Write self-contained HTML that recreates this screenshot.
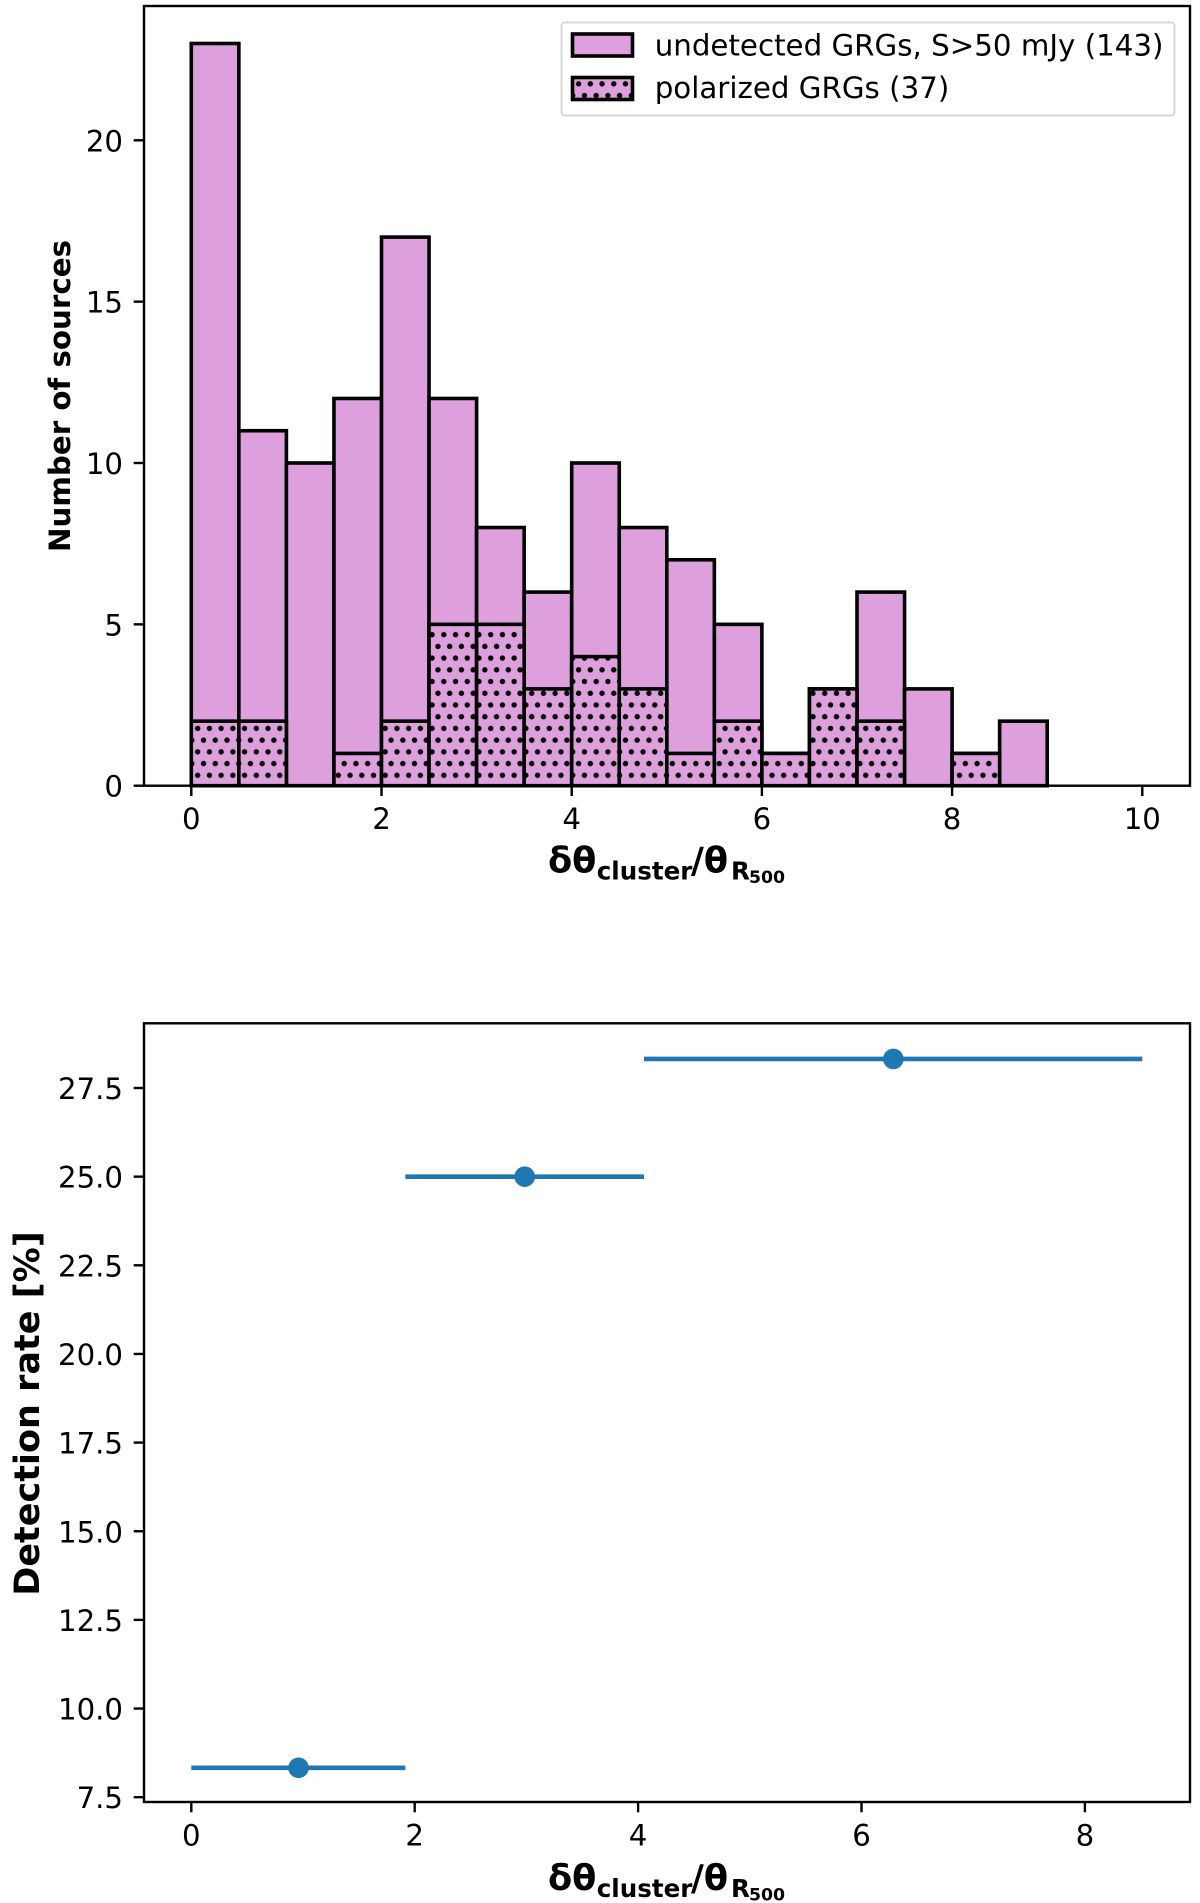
<!DOCTYPE html>
<html lang="en">
<head>
<meta charset="utf-8">
<title>GRG histogram and detection rate</title>
<style>
  html, body { margin: 0; padding: 0; background: #fff; }
  svg { display: block; }
  text { font-family: "DejaVu Sans", "Liberation Sans", sans-serif; fill: #000; }
  .tick-label { font-size: 29.2px; }
  .legend-label { font-size: 29.3px; }
  .bold { font-weight: bold; }
</style>
</head>
<body>
<svg id="figure" xmlns="http://www.w3.org/2000/svg" width="1200" height="1903" viewBox="0 0 1200 1903">
  <defs>
    <pattern id="dots" patternUnits="userSpaceOnUse" width="11.72" height="23.44" patternTransform="translate(197.7 775.3)">
      <rect x="0" y="0" width="11.72" height="23.44" fill="#dda0dd"></rect>
      <circle cx="0" cy="0" r="2.7" fill="#000"></circle>
      <circle cx="11.72" cy="0" r="2.7" fill="#000"></circle>
      <circle cx="0" cy="23.44" r="2.7" fill="#000"></circle>
      <circle cx="11.72" cy="23.44" r="2.7" fill="#000"></circle>
      <circle cx="5.86" cy="11.72" r="2.7" fill="#000"></circle>
    </pattern>
  </defs>
  <rect x="0" y="0" width="1200" height="1903" fill="#fff"></rect>

  <g id="hist-bars"></g>
  <g id="hist-axes"></g>
  <rect x="144" y="6" width="1046" height="779.7" fill="none" stroke="#000" stroke-width="2.4"></rect>

  <text class="bold" font-size="29.3" text-anchor="middle" transform="translate(70 396) rotate(-90)">Number of sources</text>
  <text class="bold"><tspan x="548" y="872.7" font-size="35.2">δθ</tspan><tspan x="596.7" y="879.5" font-size="24.6">cluster</tspan><tspan x="691" y="872.7" font-size="35.2">/θ</tspan><tspan x="731" y="879.5" font-size="24.6">R</tspan><tspan x="749" y="883" font-size="17.3">500</tspan></text>

  <g>
    <rect x="561.5" y="22.5" width="613" height="93" rx="3" ry="3" fill="#fff" fill-opacity="0.8" stroke="#d9d9d9" stroke-width="2"></rect>
    <rect x="572.5" y="34" width="60" height="22" fill="#dda0dd" stroke="#000" stroke-width="3.6"></rect>
    <text class="legend-label" x="654.7" y="55.5">undetected GRGs, S&gt;50 mJy (143)</text>
    <rect x="572.5" y="77.5" width="60" height="22" fill="url(#dots)" stroke="#000" stroke-width="3.6"></rect>
    <text class="legend-label" x="654.7" y="98.2">polarized GRGs (37)</text>
  </g>

  <g id="rate-marks"></g>
  <g id="rate-axes"></g>
  <rect x="144" y="1023.3" width="1046" height="778.7" fill="none" stroke="#000" stroke-width="2.4"></rect>

  <text class="bold" font-size="35" text-anchor="middle" transform="translate(39 1413.5) rotate(-90)">Detection rate [%]</text>
  <text class="bold"><tspan x="548" y="1890" font-size="35.2">δθ</tspan><tspan x="596.7" y="1896.8" font-size="24.6">cluster</tspan><tspan x="691" y="1890" font-size="35.2">/θ</tspan><tspan x="731" y="1896.8" font-size="24.6">R</tspan><tspan x="749" y="1900.3" font-size="17.3">500</tspan></text>
</svg>

<script>
const binWidth = 0.5;
const undetectedCounts = [23, 11, 10, 12, 17, 12, 8, 6, 10, 8, 7, 5, 1, 3, 6, 3, 1, 2];
const polarizedCounts = [2, 2, 0, 1, 2, 5, 5, 3, 4, 3, 1, 2, 1, 3, 2, 0, 1, 0];
const histXTicks = [0, 2, 4, 6, 8, 10];
const histYTicks = [0, 5, 10, 15, 20];

const rateCenters = [0.96, 2.985, 6.285];
const rateLow = [0.0, 1.916, 4.053];
const rateHigh = [1.916, 4.053, 8.514];
const rateValues = [8.33, 25.0, 28.32];
const rateXTicks = [0, 2, 4, 6, 8];
const rateYTicks = [7.5, 10.0, 12.5, 15.0, 17.5, 20.0, 22.5, 25.0, 27.5];

const NS = 'http://www.w3.org/2000/svg';
function make(tag, parent, attrs) {
  const el = document.createElementNS(NS, tag);
  for (const k in attrs) el.setAttribute(k, attrs[k]);
  parent.appendChild(el);
  return el;
}

const histX = v => 191.3 + 95.1 * v;
const histY = v => 785.7 - 32.27 * v;
const rateX = v => 191.3 + 111.7 * v;
const rateY = v => 1797.2 - 35.46 * (v - 7.5);

const histBars = document.getElementById('hist-bars');
const histAxes = document.getElementById('hist-axes');
const rateMarks = document.getElementById('rate-marks');
const rateAxes = document.getElementById('rate-axes');

undetectedCounts.forEach(function (c, i) {
  const x0 = histX(i * binWidth), x1 = histX((i + 1) * binWidth);
  const el = make('rect', histBars, { x: x0, y: histY(c), width: x1 - x0, height: histY(0) - histY(c), fill: '#dda0dd', stroke: '#000', 'stroke-width': 3.6 });
  
  
});

polarizedCounts.forEach(function (c, i) {
  const x0 = histX(i * binWidth), x1 = histX((i + 1) * binWidth);
  const el = make('rect', histBars, { x: x0, y: histY(c), width: x1 - x0, height: histY(0) - histY(c), fill: 'url(#dots)', stroke: '#000', 'stroke-width': 3.6 });
  
  
});

histXTicks.forEach(function (t) {
  const mark = make('line', histAxes, { x1: histX(t), x2: histX(t), y1: 785.7, y2: 796, stroke: '#000', 'stroke-width': 2.4 });
  
  
  const label = make('text', histAxes, { x: histX(t), y: 829, 'text-anchor': 'middle', class: 'tick-label' });
  label.textContent = String(t);
  
  
});

histYTicks.forEach(function (t) {
  const mark = make('line', histAxes, { x1: 133.7, x2: 144, y1: histY(t), y2: histY(t), stroke: '#000', 'stroke-width': 2.4 });
  
  
  const label = make('text', histAxes, { x: 123, y: histY(t) + 11, 'text-anchor': 'end', class: 'tick-label' });
  label.textContent = String(t);
  
  
});

rateValues.forEach(function (v, i) {
  const bar = make('line', rateMarks, { x1: rateX(rateLow[i]), x2: rateX(rateHigh[i]), y1: rateY(v), y2: rateY(v), stroke: '#1f77b4', 'stroke-width': 4.6 });
  
  
  const dot = make('circle', rateMarks, { cx: rateX(rateCenters[i]), cy: rateY(v), r: 10.3, fill: '#1f77b4' });
  
  
});

rateXTicks.forEach(function (t) {
  const mark = make('line', rateAxes, { x1: rateX(t), x2: rateX(t), y1: 1802, y2: 1812.3, stroke: '#000', 'stroke-width': 2.4 });
  
  
  const label = make('text', rateAxes, { x: rateX(t), y: 1845.3, 'text-anchor': 'middle', class: 'tick-label' });
  label.textContent = String(t);
  
  
});

rateYTicks.forEach(function (t) {
  const mark = make('line', rateAxes, { x1: 133.7, x2: 144, y1: rateY(t), y2: rateY(t), stroke: '#000', 'stroke-width': 2.4 });
  
  
  const label = make('text', rateAxes, { x: 123, y: rateY(t) + 11, 'text-anchor': 'end', class: 'tick-label' });
  label.textContent = t.toFixed(1);
  
  
});
</script>
</body>
</html>
